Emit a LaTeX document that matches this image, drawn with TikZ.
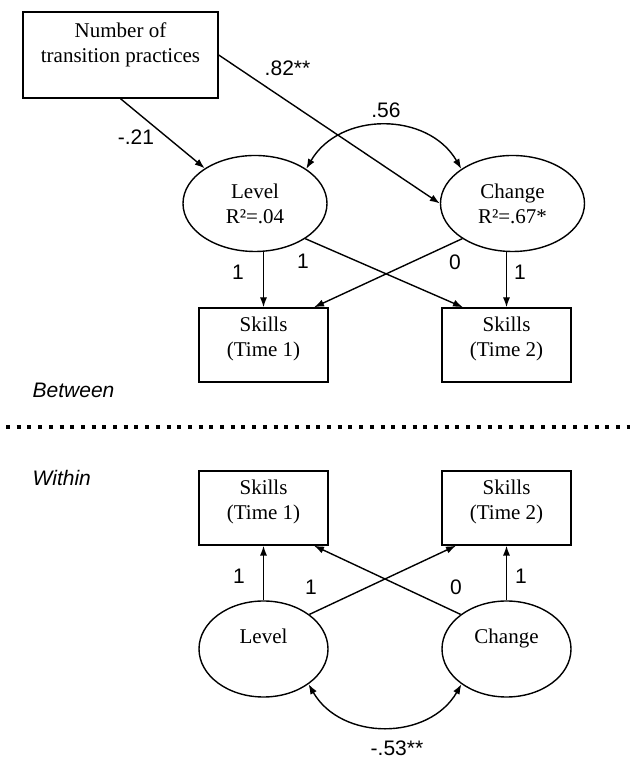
\documentclass[tikz,border=0pt]{standalone}
\usepackage{fontspec}
\setmainfont{Liberation Serif}
\setsansfont{Liberation Sans}
\usetikzlibrary{shapes.geometric,arrows.meta}

\begin{document}
\begin{tikzpicture}[x=0.5pt,y=0.5pt,line width=0.7pt,
  font=\fontsize{10.5}{12.5}\selectfont,
  >={Latex[length=5pt,width=3.6pt]},
  obsbox/.style={draw,rectangle,align=center,inner sep=0pt,minimum width=64.5pt,minimum height=37pt,text depth=8pt},
  latent/.style={draw,ellipse,align=center,inner sep=0pt,minimum height=48pt},
  coef/.style={font=\sffamily\fontsize{10.5}{12.5}\selectfont,inner sep=0pt}]
% page frame
\useasboundingbox (0,0) rectangle (630,759);

% Between part
\node[draw,rectangle,align=center,inner sep=0pt,minimum width=97.5pt,minimum height=43pt] (num) at (120.5,704) {Number of\\transition practices\\~};
\node[latent,minimum width=72pt] (lvlB) at (255,555.5) {Level\\R²=.04};
\node[latent,minimum width=72pt] (chgB) at (512.5,555.5) {Change\\R²=.67*};
\node[obsbox] (sklB1) at (263.5,414) {Skills\\(Time 1)};
\node[obsbox] (sklB2) at (506.5,414) {Skills\\(Time 2)};

\draw[->] (num.south) -- (lvlB.145);
\draw[->] (num.east) -- (chgB.west);
\draw[<->] (lvlB.34) to[bend left=60,looseness=1.1] (chgB.146);
\draw[->] (lvlB.south -| sklB1.north) -- (sklB1.north);
\draw[->] (chgB.south -| sklB2.north) -- (sklB2.north);
\draw[->] (lvlB.-35) -- ([xshift=-21.75pt]sklB2.north);
\draw[->] (chgB.215) -- ([xshift=25.25pt]sklB1.north);

\node[coef] (cNC) at (287.5,691) {.82**};
\node[coef] (cNL) at (136,622) {-.21};
\node[coef] (cLC) at (386,649) {.56};
\node[coef] (cB1) at (238,487) {1};
\node[coef] (cB2) at (303,498) {1};
\node[coef] (cB3) at (455,497) {0};
\node[coef] (cB4) at (520,487) {1};

\node[coef,anchor=west] (between) at (32,369) {\itshape Between};

% separator
\draw[line width=2pt,dash pattern=on 2pt off 3.35pt] (6,332) -- (630,332);

% Within part
\node[coef,anchor=west] (within) at (32,281) {\itshape Within};
\node[obsbox] (sklW1) at (263.5,251) {Skills\\(Time 1)};
\node[obsbox] (sklW2) at (506.5,251) {Skills\\(Time 2)};
\node[latent,minimum width=64.5pt] (lvlW) at (263.5,110) {Level\\~};
\node[latent,minimum width=64.5pt] (chgW) at (506.5,110) {Change\\~};

\draw[->] (lvlW.north) -- (sklW1.south);
\draw[->] (chgW.north) -- (sklW2.south);
\draw[->] (lvlW.37) -- ([xshift=-25.25pt]sklW2.south);
\draw[->] (chgW.143) -- ([xshift=25.25pt]sklW1.south);
\draw[<->] (lvlW.-38) to[bend right=60,looseness=1.1] (chgW.218);

\node[coef] (cW1) at (239,183) {1};
\node[coef] (cW2) at (311,172) {1};
\node[coef] (cW3) at (456,172) {0};
\node[coef] (cW4) at (521,183) {1};
\node[coef] (cLCw) at (397,11) {-.53**};
\end{tikzpicture}
\end{document}
